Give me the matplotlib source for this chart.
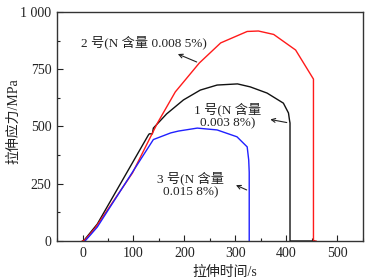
import matplotlib
matplotlib.use("Agg")
import matplotlib.pyplot as plt
from matplotlib.ticker import MultipleLocator

plt.rcParams["font.family"] = ["Liberation Serif", "Noto Sans CJK SC"]

# 1号 (N 0.003 8%)
t1 = [0, 2, 29, 129, 131, 137, 139, 165, 198, 231, 264, 304, 329, 362, 394, 404, 406, 407, 407, 455]
s1 = [0, 0, 74, 462, 468, 468, 493, 555, 616, 659, 681, 686, 673, 646, 602, 559, 528, 515, 0, 0]
# 2号 (N 0.008 5%)
t2 = [0, 5, 25, 98, 147, 182, 229, 271, 323, 345, 375, 418, 453, 453, 458]
s2 = [0, 5, 57, 297, 515, 651, 777, 865, 915, 917, 902, 834, 707, 0, 0]
# 3号 (N 0.015 8%)
t3 = [5, 15, 29, 139, 173, 188, 225, 264, 303, 323, 326, 327, 327]
s3 = [0, 25, 61, 443, 472, 480, 493, 485, 455, 411, 354, 300, 0]

yticks = [0, 250, 500, 750, 1000]
ylabels = ["0", "250", "500", "750", "1 000"]
xticks = [0, 100, 200, 300, 400, 500]

fig = plt.figure(figsize=(3.69, 2.79), dpi=100)
ax = fig.add_axes([0.1545, 0.1362, 0.829, 0.8208])

ax.plot(t1, s1, c="#111111", lw=1.0)
ax.plot(t2, s2, c="#ff1a1a", lw=1.0)
ax.plot(t3, s3, c="#2020ff", lw=1.0)

fs = 9.5
tc = "#222222"
arrow = dict(arrowstyle="->", color="#222222", lw=0.8, mutation_scale=7)
ax.text(120, 869, "2 号(N 含量 0.008 5%)", fontsize=fs, color=tc, ha="center", va="center")
ax.annotate("", xy=(182, 821), xytext=(229, 777), arrowprops=arrow)
ax.text(284, 546, "1 号(N 含量\n0.003 8%)", fontsize=fs, color=tc, ha="center", va="center",
        linespacing=1.05)
ax.annotate("", xy=(363, 533), xytext=(406, 515), arrowprops=arrow)
ax.text(212, 246, "3 号(N 含量\n0.015 8%)", fontsize=fs, color=tc, ha="center", va="center",
        linespacing=1.05)
ax.annotate("", xy=(296, 249), xytext=(327, 218), arrowprops=arrow)

ax.set_xlim(-50, 550)
ax.set_ylim(0, 1000)
ax.set_xticks(xticks)
ax.xaxis.set_minor_locator(MultipleLocator(50))
ax.set_yticks(yticks)
ax.set_yticklabels(ylabels)
ax.yaxis.set_minor_locator(MultipleLocator(125))
ax.tick_params(which="both", direction="in", labelsize=10, colors="#222222")
ax.tick_params(which="major", length=4, width=0.8, pad=4)
ax.tick_params(which="minor", length=2.5, width=0.8)
for sp in ax.spines.values():
    sp.set_color("#333333")
    sp.set_linewidth(1.0)

ax.set_xlabel("拉伸时间/s", fontsize=10, color="#222222", va="center")
ax.set_ylabel("拉伸应力/MPa", fontsize=10, color="#222222")
ax.xaxis.set_label_coords(0.549, -0.139)
ax.yaxis.set_label_coords(-0.121, 0.524)

fig.savefig("out.png", dpi=100)
